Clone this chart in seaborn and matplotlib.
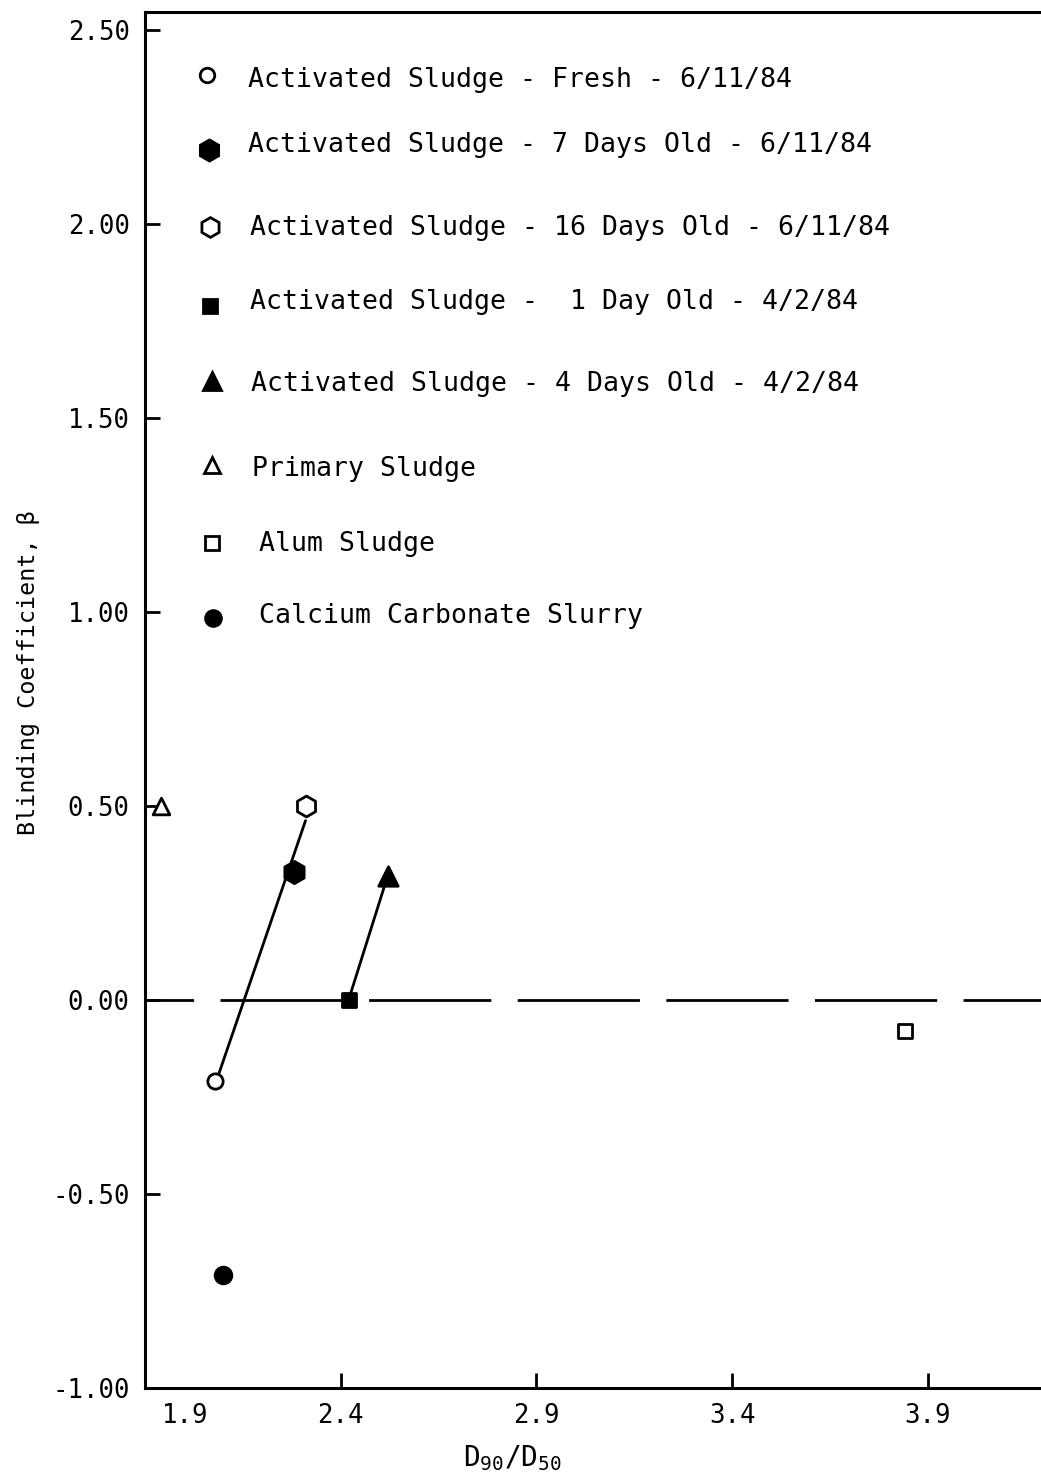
import matplotlib
matplotlib.use("Agg")
import matplotlib.pyplot as plt
import matplotlib.transforms as mtransforms
import numpy as np
import pandas as pd
import seaborn as sns

# ---- data -------------------------------------------------------------
sample_labels = [
    "Activated Sludge - Fresh - 6/11/84",
    "Activated Sludge - 7 Days Old - 6/11/84",
    "Activated Sludge - 16 Days Old - 6/11/84",
    "Activated Sludge -  1 Day Old - 4/2/84",
    "Activated Sludge - 4 Days Old - 4/2/84",
    "Primary Sludge",
    "Alum Sludge",
    "Calcium Carbonate Slurry",
]
d90_d50 = [2.08, 2.28, 2.31, 2.42, 2.52, 1.94, 3.84, 2.10]
beta = [-0.21, 0.33, 0.50, 0.00, 0.32, 0.50, -0.08, -0.71]

x_ticks = [1.9, 2.4, 2.9, 3.4, 3.9]
x_tick_labels = ["1.9", "2.4", "2.9", "3.4", "3.9"]
y_ticks = [-1.00, -0.50, 0.00, 0.50, 1.00, 1.50, 2.00, 2.50]
y_tick_labels = ["-1.00", "-0.50", "0.00", "0.50", "1.00", "1.50", "2.00", "2.50"]

# sample groups fitted with a straight line (indices into the arrays above)
fit_groups = [[0, 1, 2], [3, 4]]

# ---- marker styles ----------------------------------------------------
marker_shapes = ["o", "h", "h", "s", "^", "^", "s", "o"]
marker_filled = [False, True, False, True, True, False, False, True]
marker_sizes = [11, 16, 15, 10, 14, 12, 10, 12]

# key rows: (marker x px, marker y px, text x px, text baseline y px)
legend_rows = [
    (207, 75, 248, 87),
    (209, 150, 248, 152),
    (210, 227, 250, 235),
    (210, 306, 250, 309),
    (212, 381, 251, 391),
    (212, 465, 252, 476),
    (212, 543, 259, 551),
    (213, 618, 259, 623),
]

# ---- figure -----------------------------------------------------------
sns.set_theme(style="white")
plt.rcParams["font.family"] = ["DejaVu Sans Mono", "DejaVu Sans"]
plt.rcParams["mathtext.default"] = "regular"

W, H = 1041, 1473
fig = plt.figure(figsize=(W / 100, H / 100), dpi=100)
ax_l, ax_r, ax_t, ax_b = 145, 1041, 12, 1388
ax = fig.add_axes([ax_l / W, (H - ax_b) / H, (ax_r - ax_l) / W, (ax_b - ax_t) / H])

df = pd.DataFrame({"sample": sample_labels, "x": d90_d50, "y": beta})

# zero reference line (long dashes)
ax.axhline(0.0, color="black", lw=2.0, ls=(26.5, (44, 9.5)), zorder=1)

# least-squares line through each sludge series, spanning its x range
for idx in fit_groups:
    grp = df.iloc[idx]
    slope, intercept = np.polyfit(grp["x"], grp["y"], 1)
    xs = np.array([grp["x"].min(), grp["x"].max()])
    fit = pd.DataFrame({"x": xs, "y": slope * xs + intercept})
    sns.lineplot(data=fit, x="x", y="y", sort=False, color="black",
                 lw=2.0, ax=ax, zorder=2, legend=False)

# sample points
for i in range(len(df)):
    face = "black" if marker_filled[i] else "white"
    sns.scatterplot(data=df.iloc[[i]], x="x", y="y", marker=marker_shapes[i],
                    s=marker_sizes[i] ** 2, color=face, edgecolor="black",
                    linewidth=2.0, ax=ax, zorder=3, legend=False)

ax.set_xlim(1.9, 1.9 + (ax_r - ax_l) / 391.5)
ax.set_ylim(-1.0, 2.546)

# hand-placed key inside the plot
def px_to_axes(px, py):
    return ((px - ax_l) / (ax_r - ax_l), (ax_b - py) / (ax_b - ax_t))

for i, (mx, my, tx, ty) in enumerate(legend_rows):
    face = "black" if marker_filled[i] else "white"
    ax.plot(*px_to_axes(mx, my), marker=marker_shapes[i],
            markersize=marker_sizes[i] * 0.95, markerfacecolor=face,
            markeredgecolor="black", markeredgewidth=2.0,
            transform=ax.transAxes, clip_on=False, ls="none")
    ax.text(*px_to_axes(tx, ty), sample_labels[i], transform=ax.transAxes,
            ha="left", va="baseline", fontsize=19.1, color="black")

# axes styling
for side in ["left", "bottom", "top"]:
    ax.spines[side].set_color("black")
    ax.spines[side].set_linewidth(2.2)
ax.spines["right"].set_visible(False)

ax.set_xticks(x_ticks)
ax.set_xticklabels(x_tick_labels)
ax.set_yticks(y_ticks)
ax.set_yticklabels(y_tick_labels)
ax.tick_params(axis="both", direction="in", length=11, width=2.0,
               colors="black", labelsize=18.5, left=True, bottom=True,
               top=False, right=False)
ax.tick_params(axis="x", pad=11)
ax.tick_params(axis="y", pad=11)

# first x label sits just right of the corner
first = ax.get_xticklabels()[0]
first.set_ha("left")
first.set_transform(first.get_transform() +
                    mtransforms.ScaledTranslation(0.17, 0, fig.dpi_scale_trans))

ax.set_xlabel(r"$\mathregular{D_{90}/D_{50}}$", fontsize=20, color="black")
ax.set_ylabel("Blinding Coefficient, β", fontsize=16.8, color="black")
ax.xaxis.set_label_coords(0.41, -0.040)
ax.yaxis.set_label_coords(-0.117, 0.52)

fig.savefig("out.png", dpi=100)
